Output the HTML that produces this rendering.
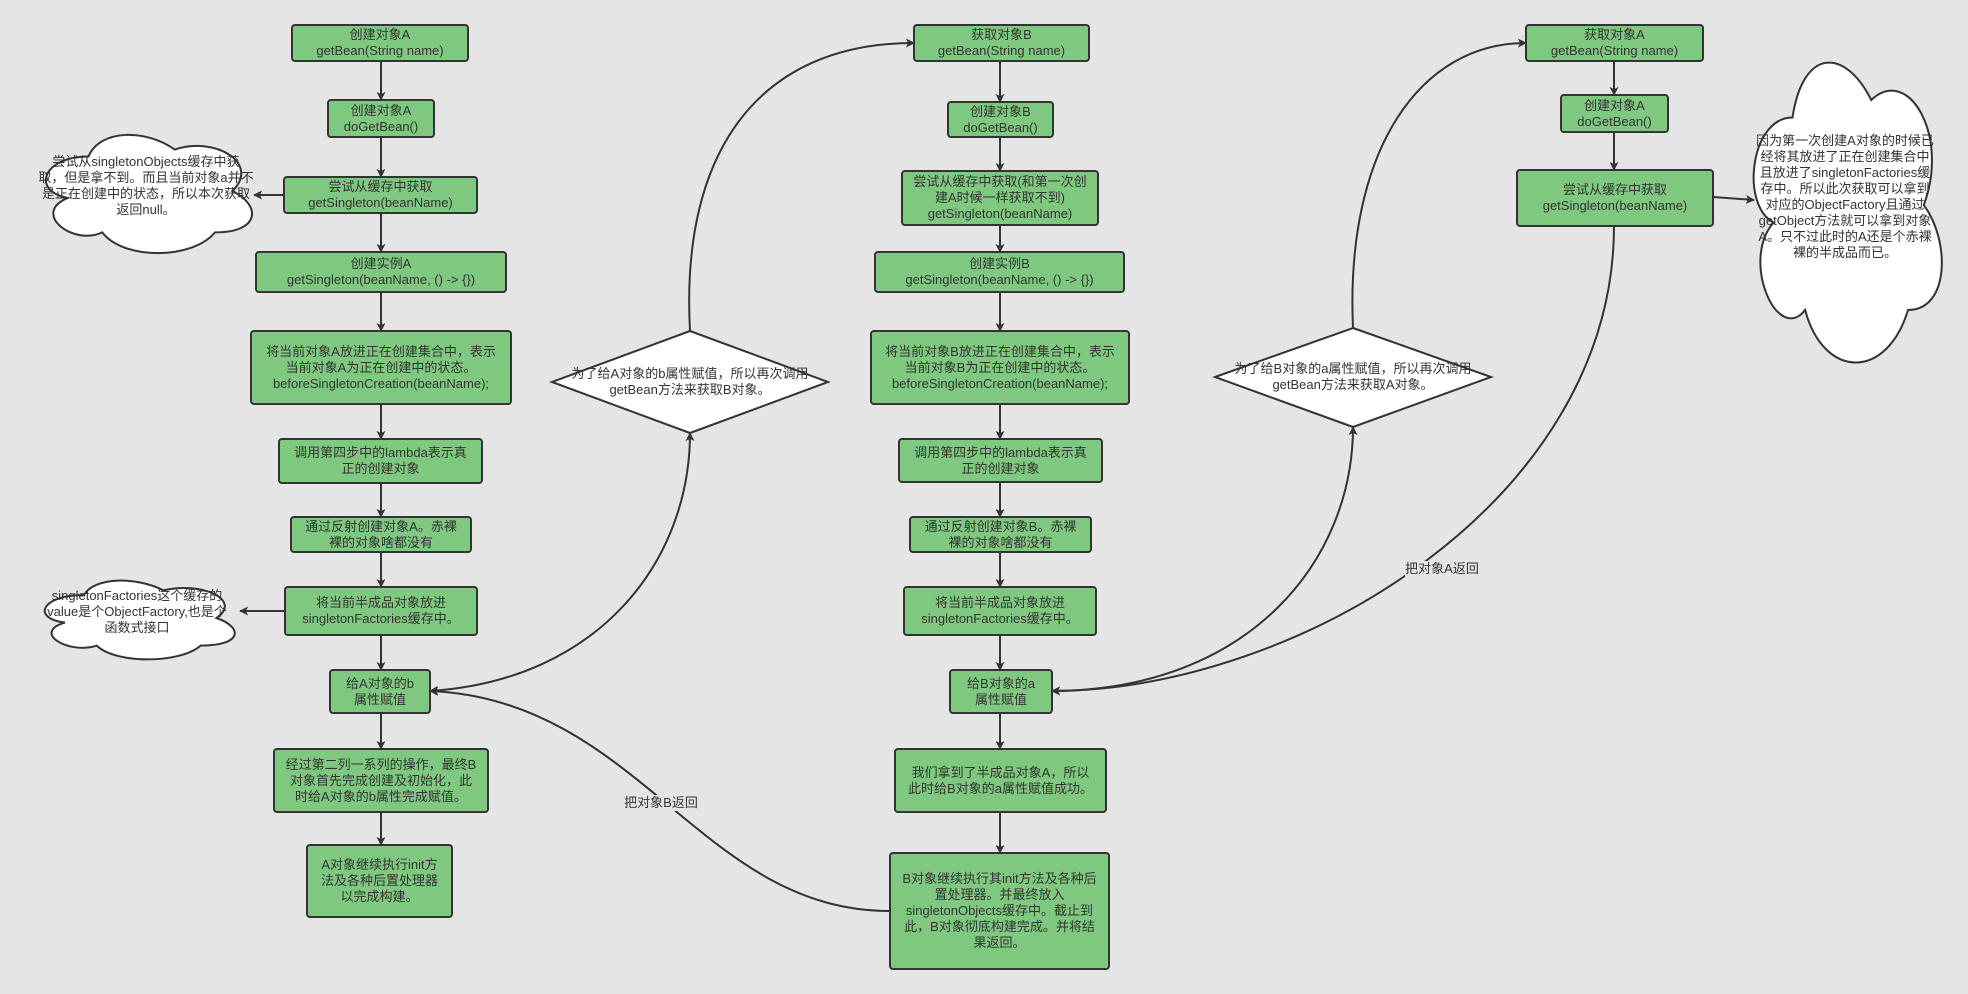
<!DOCTYPE html>
<html><head><meta charset="utf-8">
<style>
html,body{margin:0;padding:0}
body{width:1968px;height:994px;background:#e5e5e5;position:relative;overflow:hidden;font-family:"Liberation Sans","Noto Sans CJK SC",sans-serif;color:#333}
svg{position:absolute;left:0;top:0}
.t{position:absolute;display:flex;align-items:center;justify-content:center;text-align:center;font-size:13px;line-height:16px;white-space:nowrap}
.l{position:absolute;font-size:13px;line-height:16px;background:#e5e5e5;white-space:nowrap;transform:translate(-50%,-50%)}
</style></head><body>
<svg width="1968" height="994" viewBox="0 0 1968 994">
<defs>
<marker id="a" viewBox="0 0 10 10" refX="9" refY="5" markerWidth="9" markerHeight="9" markerUnits="userSpaceOnUse" orient="auto-start-reverse">
<path d="M0,0 L10,5 L0,10 L2.5,5 Z" fill="#333"/></marker>
<g id="cl"><path d="M0.25,0.25 C0.05,0.25 0,0.5 0.16,0.55 C0,0.66 0.18,0.9 0.31,0.8 C0.4,1 0.7,1 0.8,0.8 C1,0.8 1,0.6 0.875,0.5 C1,0.3 0.8,0.1 0.625,0.2 C0.5,0.05 0.3,0.05 0.25,0.25 Z" fill="#fff" stroke="#333" stroke-width="2" vector-effect="non-scaling-stroke"/></g>
</defs>
<g fill="#7ec87f" stroke="#333" stroke-width="2">
<rect x="292" y="25" width="176" height="36" rx="3"/>
<rect x="328" y="100" width="106" height="37" rx="3"/>
<rect x="284" y="177" width="193" height="36" rx="3"/>
<rect x="256" y="252" width="250" height="40" rx="3"/>
<rect x="251" y="331" width="260" height="73" rx="3"/>
<rect x="279" y="439" width="203" height="44" rx="3"/>
<rect x="291" y="517" width="180" height="35" rx="3"/>
<rect x="285" y="587" width="192" height="48" rx="3"/>
<rect x="330" y="670" width="100" height="43" rx="3"/>
<rect x="274" y="749" width="214" height="63" rx="3"/>
<rect x="307" y="845" width="145" height="72" rx="3"/>

<rect x="914" y="25" width="175" height="36" rx="3"/>
<rect x="948" y="102" width="105" height="35" rx="3"/>
<rect x="902" y="171" width="196" height="54" rx="3"/>
<rect x="875" y="252" width="249" height="40" rx="3"/>
<rect x="871" y="331" width="258" height="73" rx="3"/>
<rect x="899" y="439" width="203" height="43" rx="3"/>
<rect x="910" y="517" width="181" height="35" rx="3"/>
<rect x="904" y="587" width="192" height="48" rx="3"/>
<rect x="950" y="670" width="102" height="43" rx="3"/>
<rect x="895" y="749" width="211" height="63" rx="3"/>
<rect x="890" y="853" width="219" height="116" rx="3"/>

<rect x="1526" y="25" width="177" height="36" rx="3"/>
<rect x="1561" y="95" width="107" height="37" rx="3"/>
<rect x="1517" y="170" width="196" height="56" rx="3"/>
</g>
<g fill="#fff" stroke="#333" stroke-width="2">
<polygon points="690,331 828,382 690,433 552,382"/>
<polygon points="1353,328 1491,377 1353,427 1215,377"/>
</g>
<svg x="31" y="122" width="230" height="138" viewBox="0 0 1 1" preserveAspectRatio="none"><use href="#cl"/></svg>
<svg x="31" y="572" width="212" height="92" viewBox="0 0 1 1" preserveAspectRatio="none"><use href="#cl"/></svg>
<svg x="1740" y="30" width="210" height="350" viewBox="0 0 1 1" preserveAspectRatio="none"><use href="#cl"/></svg>

<g stroke="#333" stroke-width="2" fill="none" marker-end="url(#a)">
<line x1="381" y1="61" x2="381" y2="100"/>
<line x1="381" y1="137" x2="381" y2="177"/>
<line x1="381" y1="213" x2="381" y2="252"/>
<line x1="381" y1="292" x2="381" y2="331"/>
<line x1="381" y1="404" x2="381" y2="439"/>
<line x1="381" y1="483" x2="381" y2="517"/>
<line x1="381" y1="552" x2="381" y2="587"/>
<line x1="381" y1="635" x2="381" y2="670"/>
<line x1="381" y1="713" x2="381" y2="749"/>
<line x1="381" y1="812" x2="381" y2="845"/>

<line x1="1000" y1="61" x2="1000" y2="102"/>
<line x1="1000" y1="137" x2="1000" y2="171"/>
<line x1="1000" y1="225" x2="1000" y2="252"/>
<line x1="1000" y1="292" x2="1000" y2="331"/>
<line x1="1000" y1="404" x2="1000" y2="439"/>
<line x1="1000" y1="482" x2="1000" y2="517"/>
<line x1="1000" y1="552" x2="1000" y2="587"/>
<line x1="1000" y1="635" x2="1000" y2="670"/>
<line x1="1000" y1="713" x2="1000" y2="749"/>
<line x1="1000" y1="812" x2="1000" y2="853"/>

<line x1="1614" y1="61" x2="1614" y2="95"/>
<line x1="1614" y1="132" x2="1614" y2="170"/>

<line x1="284" y1="195" x2="254" y2="195"/>
<line x1="285" y1="611" x2="240" y2="611"/>
<path d="M1713,197 L1754,200"/>

<path d="M690,331 C680,150 760,43 914,43"/>
<path d="M430,691 C600,680 690,560 690,433" marker-start="url(#a)"/>
<path d="M890,911 C700,911 640,700 430,691"/>
<path d="M1353,328 C1345,150 1420,43 1526,43"/>
<path d="M1052,691 C1250,690 1353,560 1353,427" marker-start="url(#a)"/>
<path d="M1614,226 C1614,500 1300,690 1052,691"/>
</g>
</svg>

<div class="t" style="left:292px;top:25px;width:176px;height:36px">创建对象A<br>getBean(String name)</div>
<div class="t" style="left:328px;top:100px;width:106px;height:37px">创建对象A<br>doGetBean()</div>
<div class="t" style="left:284px;top:177px;width:193px;height:36px">尝试从缓存中获取<br>getSingleton(beanName)</div>
<div class="t" style="left:256px;top:252px;width:250px;height:40px">创建实例A<br>getSingleton(beanName, () -&gt; {})</div>
<div class="t" style="left:251px;top:331px;width:260px;height:73px">将当前对象A放进正在创建集合中，表示<br>当前对象A为正在创建中的状态。<br>beforeSingletonCreation(beanName);</div>
<div class="t" style="left:279px;top:439px;width:203px;height:44px">调用第四步中的lambda表示真<br>正的创建对象</div>
<div class="t" style="left:291px;top:517px;width:180px;height:35px">通过反射创建对象A。赤裸<br>裸的对象啥都没有</div>
<div class="t" style="left:285px;top:587px;width:192px;height:48px">将当前半成品对象放进<br>singletonFactories缓存中。</div>
<div class="t" style="left:330px;top:670px;width:100px;height:43px">给A对象的b<br>属性赋值</div>
<div class="t" style="left:274px;top:749px;width:214px;height:63px">经过第二列一系列的操作，最终B<br>对象首先完成创建及初始化，此<br>时给A对象的b属性完成赋值。</div>
<div class="t" style="left:307px;top:845px;width:145px;height:72px">A对象继续执行init方<br>法及各种后置处理器<br>以完成构建。</div>

<div class="t" style="left:914px;top:25px;width:175px;height:36px">获取对象B<br>getBean(String name)</div>
<div class="t" style="left:948px;top:102px;width:105px;height:35px">创建对象B<br>doGetBean()</div>
<div class="t" style="left:902px;top:171px;width:196px;height:54px">尝试从缓存中获取(和第一次创<br>建A时候一样获取不到)<br>getSingleton(beanName)</div>
<div class="t" style="left:875px;top:252px;width:249px;height:40px">创建实例B<br>getSingleton(beanName, () -&gt; {})</div>
<div class="t" style="left:871px;top:331px;width:258px;height:73px">将当前对象B放进正在创建集合中，表示<br>当前对象B为正在创建中的状态。<br>beforeSingletonCreation(beanName);</div>
<div class="t" style="left:899px;top:439px;width:203px;height:43px">调用第四步中的lambda表示真<br>正的创建对象</div>
<div class="t" style="left:910px;top:517px;width:181px;height:35px">通过反射创建对象B。赤裸<br>裸的对象啥都没有</div>
<div class="t" style="left:904px;top:587px;width:192px;height:48px">将当前半成品对象放进<br>singletonFactories缓存中。</div>
<div class="t" style="left:950px;top:670px;width:102px;height:43px">给B对象的a<br>属性赋值</div>
<div class="t" style="left:895px;top:749px;width:211px;height:63px">我们拿到了半成品对象A，所以<br>此时给B对象的a属性赋值成功。</div>
<div class="t" style="left:890px;top:853px;width:219px;height:116px">B对象继续执行其init方法及各种后<br>置处理器。并最终放入<br>singletonObjects缓存中。截止到<br>此，B对象彻底构建完成。并将结<br>果返回。</div>

<div class="t" style="left:1526px;top:25px;width:177px;height:36px">获取对象A<br>getBean(String name)</div>
<div class="t" style="left:1561px;top:95px;width:107px;height:37px">创建对象A<br>doGetBean()</div>
<div class="t" style="left:1517px;top:170px;width:196px;height:56px">尝试从缓存中获取<br>getSingleton(beanName)</div>

<div class="t" style="left:552px;top:360px;width:276px;height:44px">为了给A对象的b属性赋值，所以再次调用<br>getBean方法来获取B对象。</div>
<div class="t" style="left:1215px;top:355px;width:276px;height:44px">为了给B对象的a属性赋值，所以再次调用<br>getBean方法来获取A对象。</div>

<div class="t" style="left:31px;top:150px;width:230px;height:72px">尝试从singletonObjects缓存中获<br>取，但是拿不到。而且当前对象a并不<br>是正在创建中的状态，所以本次获取<br>返回null。</div>
<div class="t" style="left:31px;top:587px;width:212px;height:50px">singletonFactories这个缓存的<br>value是个ObjectFactory,也是个<br>函数式接口</div>
<div class="t" style="left:1745px;top:132px;width:200px;height:130px">因为第一次创建A对象的时候已<br>经将其放进了正在创建集合中<br>且放进了singletonFactories缓<br>存中。所以此次获取可以拿到<br>对应的ObjectFactory且通过<br>getObject方法就可以拿到对象<br>A。只不过此时的A还是个赤裸<br>裸的半成品而已。</div>

<div class="l" style="left:661px;top:803px">把对象B返回</div>
<div class="l" style="left:1442px;top:569px">把对象A返回</div>
</body></html>
